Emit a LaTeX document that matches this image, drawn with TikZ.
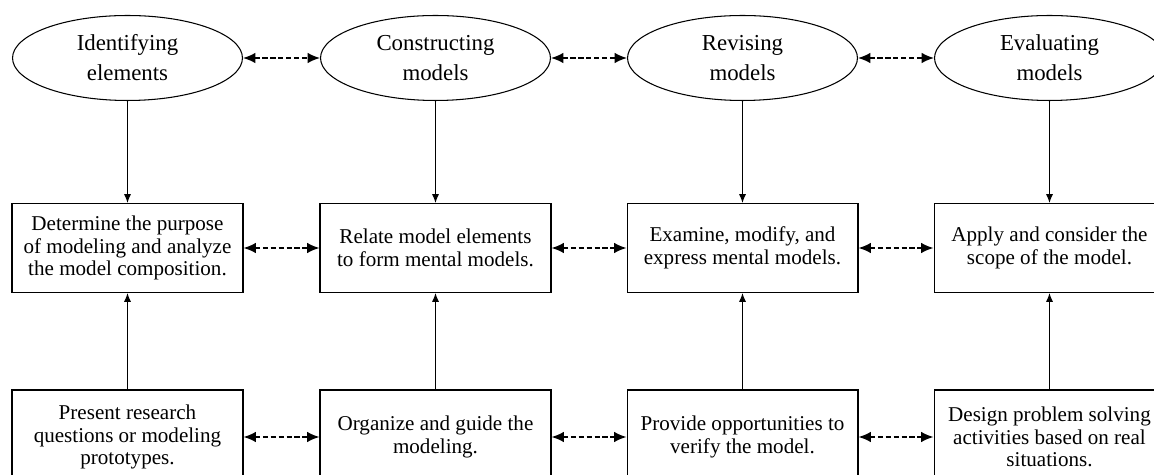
\documentclass[tikz,border=0pt]{standalone}
\usepackage{fontspec}
\setmainfont{Liberation Serif}
\usetikzlibrary{shapes.geometric,arrows.meta}
\tikzset{
    stagenode/.style={ellipse,draw,line width=0.6pt,minimum width=4.6cm,minimum height=1.7cm,inner sep=0pt,align=center,font=\fontsize{13}{17}\selectfont},
    actbox/.style={rectangle,draw,line width=0.6pt,minimum width=4.62cm,minimum height=1.78cm,inner sep=0pt,align=center,font=\fontsize{12}{12.8}\selectfont},
    linkarrow/.style={{Latex[length=7pt,width=6pt]}-{Latex[length=7pt,width=6pt]},dash pattern=on 3pt off 1.5pt,line width=1pt},
    flowarrow/.style={-{Latex[length=5pt,width=4pt]},line width=0.6pt},
}

\begin{document}
\begin{tikzpicture}[x=0.02cm,y=-0.02cm]
    \useasboundingbox (0,0) rectangle (1154,475);
    \node[stagenode] (s1) at (127.5,58) {Identifying\\elements};
    \node[stagenode] (s2) at (435.5,58) {Constructing\\models};
    \node[stagenode] (s3) at (742.5,58) {Revising\\models};
    \node[stagenode] (s4) at (1049.5,58) {Evaluating\\models};
    \node[actbox] (m1) at (127.5,248) {Determine the purpose\\of modeling and analyze\\the model composition.};
    \node[actbox] (m2) at (435.5,248) {Relate model elements\\to form mental models.};
    \node[actbox] (m3) at (742.5,248) {Examine, modify, and\\express mental models.};
    \node[actbox] (m4) at (1049.5,248) {Apply and consider the\\scope of the model.};
    \node[actbox,minimum height=1.88cm] (b1) at (127.5,437) {Present research\\questions or modeling\\prototypes.};
    \node[actbox,minimum height=1.88cm] (b2) at (435.5,437) {Organize and guide the\\modeling.};
    \node[actbox,minimum height=1.88cm] (b3) at (742.5,437) {Provide opportunities to\\verify the model.};
    \node[actbox,minimum height=1.88cm] (b4) at (1049.5,437) {Design problem solving\\activities based on real\\situations.};
    \draw[linkarrow] (s1) -- (s2);
    \draw[linkarrow] (s2) -- (s3);
    \draw[linkarrow] (s3) -- (s4);
    \draw[linkarrow] (m1) -- (m2);
    \draw[linkarrow] (m2) -- (m3);
    \draw[linkarrow] (m3) -- (m4);
    \draw[linkarrow] (b1) -- (b2);
    \draw[linkarrow] (b2) -- (b3);
    \draw[linkarrow] (b3) -- (b4);
    \draw[flowarrow] (s1) -- (m1);
    \draw[flowarrow] (s2) -- (m2);
    \draw[flowarrow] (s3) -- (m3);
    \draw[flowarrow] (s4) -- (m4);
    \draw[flowarrow] (b1) -- (m1);
    \draw[flowarrow] (b2) -- (m2);
    \draw[flowarrow] (b3) -- (m3);
    \draw[flowarrow] (b4) -- (m4);
\end{tikzpicture}
\end{document}
